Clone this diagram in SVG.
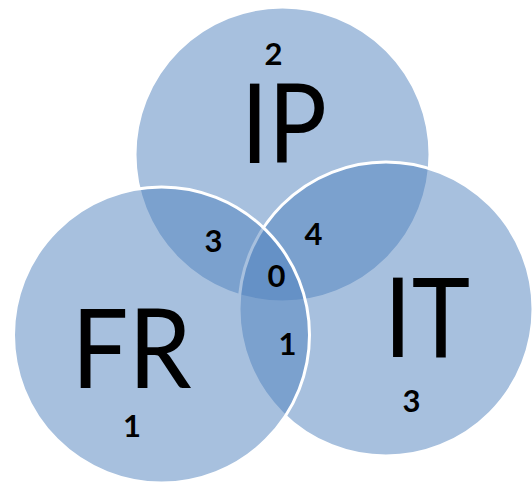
<svg xmlns="http://www.w3.org/2000/svg" width="532" height="483" viewBox="0 0 532 483">
  <style>
    .set { fill: #4F81BD; fill-opacity: 0.5; stroke: #FFFFFF; stroke-width: 3; }
    .big { font-family: Lato, "Open Sans", "Liberation Sans", sans-serif; font-size: 110px; fill: #000000; text-anchor: middle; }
    .num { font-family: Lato, "Open Sans", "Liberation Sans", sans-serif; font-weight: bold; font-size: 31px; fill: #000000; text-anchor: middle; }
  </style>
  <rect width="532" height="483" fill="#FFFFFF"/>
  <g id="IP">
    <circle class="set" cx="282.5" cy="154.5" r="147.5"/>
  </g>
  <g id="IT">
    <circle class="set" cx="386" cy="309" r="147"/>
  </g>
  <g id="FR">
    <circle class="set" cx="161.5" cy="335" r="148"/>
  </g>
  <g id="labels">
    <text class="big" x="284" y="163" textLength="86" lengthAdjust="spacingAndGlyphs">IP</text>
    <text class="big" x="131.5" y="388" textLength="120" lengthAdjust="spacingAndGlyphs">FR</text>
    <text class="big" x="427" y="357" textLength="86" lengthAdjust="spacingAndGlyphs">IT</text>
    <text class="num" x="273.5" y="65">2</text>
    <text class="num" x="132" y="437">1</text>
    <text class="num" x="411.5" y="412">3</text>
    <text class="num" x="213.5" y="252">3</text>
    <text class="num" x="313.5" y="245">4</text>
    <text class="num" x="276.5" y="287">0</text>
    <text class="num" x="287.5" y="355">1</text>
  </g>
</svg>
